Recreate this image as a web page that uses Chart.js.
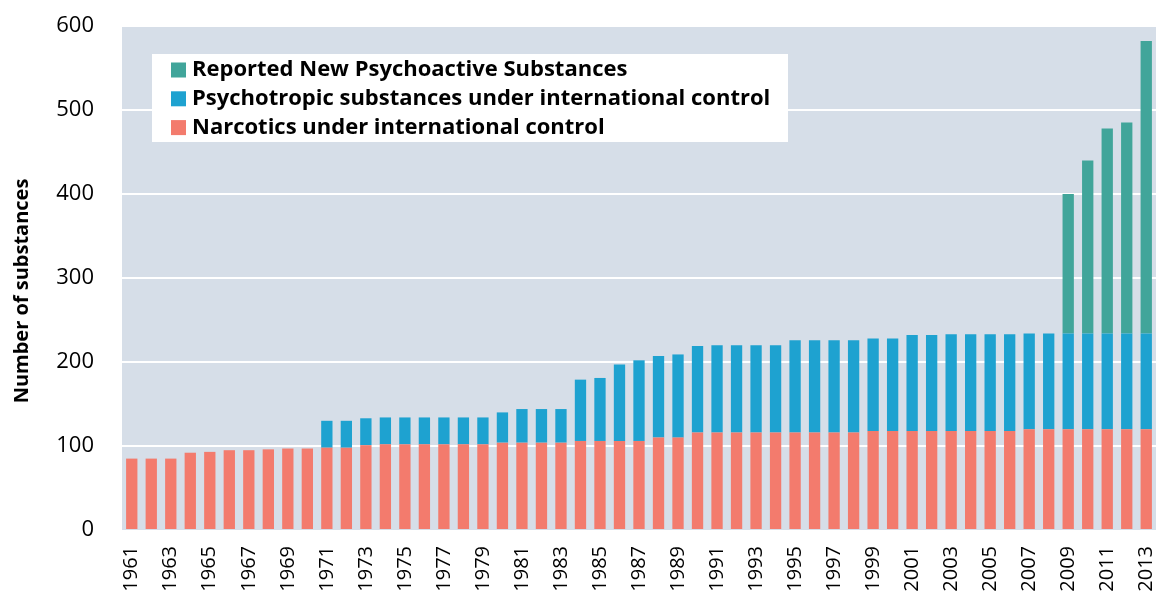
<!DOCTYPE html>
<html><head><meta charset="utf-8">
<script src="https://cdn.jsdelivr.net/npm/chart.js@4.4.0/dist/chart.umd.min.js"></script>
<style>html,body{margin:0;padding:0;background:#fff;}#wrap{position:relative;width:1158px;height:599px;}</style>
</head><body><div id="wrap"><canvas id="c" width="1158" height="599"></canvas></div>
<script>
const years = ['1961','1962','1963','1964','1965','1966','1967','1968','1969','1970',
  '1971','1972','1973','1974','1975','1976','1977','1978','1979','1980',
  '1981','1982','1983','1984','1985','1986','1987','1988','1989','1990',
  '1991','1992','1993','1994','1995','1996','1997','1998','1999','2000',
  '2001','2002','2003','2004','2005','2006','2007','2008','2009','2010',
  '2011','2012','2013'];
const narcotics = [85,85,85,92,93,95,95,96,97,97,
  98,98,101,102,102,102,102,102,102,104,
  104,104,104,106,106,106,106,110,110,116,
  116,116,116,116,116,116,116,116,118,118,
  118,118,118,118,118,118,120,120,120,120,
  120,120,120];
const psychotropic = [null,null,null,null,null,null,null,null,null,null,
  32,32,32,32,32,32,32,32,32,36,
  40,40,40,73,75,91,96,97,99,103,
  104,104,104,104,110,110,110,110,110,110,
  114,114,115,115,115,115,114,114,114,114,
  114,114,114];
const nps = [null,null,null,null,null,null,null,null,null,null,
  null,null,null,null,null,null,null,null,null,null,
  null,null,null,null,null,null,null,null,null,null,
  null,null,null,null,null,null,null,null,null,null,
  null,null,null,null,null,null,null,null,166,206,
  244,251,348];
const yTicks = [0,100,200,300,400,500,600];
const yTitle = 'Number of substances';
const seriesNames = ['Narcotics under international control','Psychotropic substances under international control','Reported New Psychoactive Substances'];
const seriesColors = ['#F37B6D','#1EA2D0','#41A59A'];
const FONT = '"Open Sans", Lato, "DejaVu Sans", sans-serif';

const bgPlugin = {
  id: 'plotBg',
  beforeDraw(chart) {
    const {ctx, chartArea: a} = chart;
    ctx.save();
    ctx.fillStyle = '#D6DEE8';
    ctx.fillRect(a.left, a.top, a.right - a.left, a.bottom - a.top);
    ctx.restore();
  }
};
const legendPlugin = {
  id: 'boxLegend',
  afterDraw(chart) {
    const {ctx, chartArea: a} = chart;
    const x0 = a.left + 30, y0 = a.top + 28;
    ctx.save();
    ctx.fillStyle = '#FFFFFF';
    ctx.fillRect(x0, y0, 636, 88);
    const order = [2, 1, 0];
    ctx.font = 'bold 22px ' + FONT;
    ctx.textBaseline = 'middle';
    ctx.textAlign = 'left';
    order.forEach((di, r) => {
      const ds = chart.data.datasets[di];
      const cy = y0 + 16 + r * 28.8;
      ctx.fillStyle = ds.backgroundColor;
      ctx.fillRect(x0 + 19, cy - 7.5, 15, 15);
      ctx.fillStyle = '#000';
      ctx.fillText(ds.label, x0 + 40, cy);
    });
    // y axis title
    ctx.translate(22, 291);
    ctx.rotate(-Math.PI / 2);
    ctx.textAlign = 'center';
    ctx.font = 'bold 20px ' + FONT;
    ctx.fillText(yTitle, 0, 0);
    ctx.restore();
  }
};
function zeroPad(s) { s.paddingTop = 0; s.paddingBottom = 0; s.paddingLeft = 0; s.paddingRight = 0; }

new Chart(document.getElementById('c'), {
  type: 'bar',
  data: {
    labels: years,
    datasets: [
      {label: seriesNames[0], data: narcotics, backgroundColor: seriesColors[0], borderWidth: 0},
      {label: seriesNames[1], data: psychotropic, backgroundColor: seriesColors[1], borderWidth: 0},
      {label: seriesNames[2], data: nps, backgroundColor: seriesColors[2], borderWidth: 0}
    ]
  },
  options: {
    responsive: false,
    animation: false,
    layout: {padding: {left: 0, right: 2, top: 26, bottom: 0}},
    datasets: {bar: {categoryPercentage: 1.0, barPercentage: 0.58}},
    plugins: {legend: {display: false}, tooltip: {enabled: false}},
    scales: {
      x: {
        stacked: true,
        grid: {display: false, drawTicks: false},
        border: {display: false},
        afterFit(s) { s.height = 69; zeroPad(s); },
        ticks: {
          autoSkip: false, minRotation: 90, maxRotation: 90, padding: 16,
          color: '#000', font: {family: FONT, size: 20},
          callback: (v, i) => (i % 2 === 0 ? years[i] : '')
        }
      },
      y: {
        stacked: true, min: 0, max: 600,
        afterFit(s) { s.width = 122; zeroPad(s); },
        afterBuildTicks(s) { s.ticks = yTicks.map(v => ({value: v})); },
        grid: {color: c => (c.tick && c.tick.value === 0 ? 'rgba(0,0,0,0)' : '#FFFFFF'), lineWidth: 2, drawTicks: false},
        border: {display: false},
        ticks: {padding: 28, color: '#000', font: {family: FONT, size: 22}},
        title: {display: false, text: yTitle}
      }
    }
  },
  plugins: [bgPlugin, legendPlugin]
});
</script></body></html>
